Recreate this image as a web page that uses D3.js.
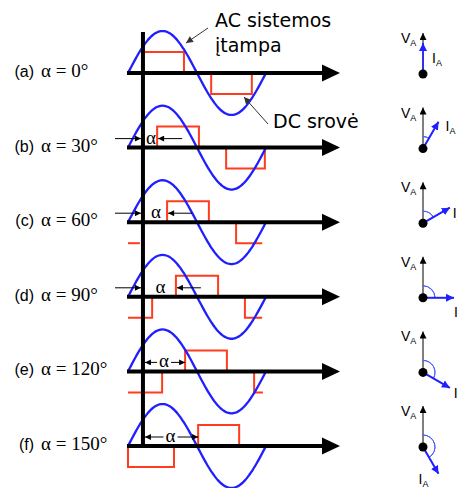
<!DOCTYPE html>
<html>
<head>
<meta charset="utf-8">
<script src="https://cdn.jsdelivr.net/npm/d3@7/dist/d3.min.js"></script>
<style>
  body { margin: 0; background: #fff; }
  svg { display: block; }
</style>
</head>
<body>
<div id="chart"></div>
<script>
// panel data (angles in degrees along one period of the AC voltage)
const panels = ["(a)", "(b)", "(c)", "(d)", "(e)", "(f)"];
const alphas = [0, 30, 60, 90, 120, 150];
const axisDeg = 39; // vertical axis position
const posPulses = [[39, 146], [76, 185], [102, 211], [125, 235], [149, 258], [183, 290]];
// negative current blocks; cut = side(s) clipped by the window
const negPulses = [
  [{from: 217, to: 323, cut: null}],
  [{from: 256, to: 357, cut: null}],
  [{from: 0, to: 31, cut: "both"}, {from: 282, to: 350, cut: "right"}],
  [{from: 0, to: 63, cut: "left"}, {from: 305, to: 350, cut: "right"}],
  [{from: 0, to: 89, cut: "left"}, {from: 329, to: 352, cut: "right"}],
  [{from: 0, to: 120, cut: null}]
];
const currentLevel = 0.5; // DC current level relative to voltage amplitude

const width = 457, height = 488;
const blue = "#1f1fff", red = "#ff3c1e";
const sans = "'Liberation Sans', Arial, sans-serif";
const serif = "'Liberation Serif', 'Times New Roman', serif";

const svg = d3.select("#chart").append("svg")
    .attr("width", width)
    .attr("height", height);

const defs = svg.append("defs");
function marker(id, color, w, h) {
  defs.append("marker")
      .attr("id", id)
      .attr("viewBox", "0 0 10 10")
      .attr("refX", 10).attr("refY", 5)
      .attr("markerUnits", "userSpaceOnUse")
      .attr("markerWidth", w).attr("markerHeight", h)
      .attr("orient", "auto-start-reverse")
    .append("path")
      .attr("d", "M0,0L10,5L0,10z")
      .attr("fill", color);
}
marker("thin", "#000", 7, 6);
marker("lead", "#333", 8, 7);
marker("vert", "#000", 8, 7);
marker("cur", blue, 8, 8);

const x = d3.scaleLinear().domain([0, 360]).range([128, 266]);
const amp = d3.scaleLinear().domain([-1, 1]).range([42, -42]);
const py = d3.scalePoint().domain(panels).range([73, 446]);

const sineLine = d3.line()
    .x(d => x(d))
    .y(d => amp(Math.sin(d * Math.PI / 180)))
    .curve(d3.curveBasis);

const stepLine = d3.line().x(d => x(d[0])).y(d => amp(d[1]));

panels.forEach((p, i) => {
  const g = svg.append("g").attr("transform", `translate(0,${py(p)})`);

  // red DC current blocks
  const pulses = [{from: posPulses[i][0], to: posPulses[i][1], cut: null, s: 1}]
    .concat(negPulses[i].map(d => Object.assign({s: -1}, d)));
  pulses.forEach(d => {
    let pts = [[d.from, 0], [d.from, d.s * currentLevel], [d.to, d.s * currentLevel], [d.to, 0]];
    if (d.cut === "left") pts = pts.slice(1);
    if (d.cut === "right") pts = pts.slice(0, 3);
    if (d.cut === "both") pts = pts.slice(1, 3);
    g.append("path")
        .attr("d", stepLine(pts))
        .attr("fill", "none")
        .attr("stroke", red)
        .attr("stroke-width", 2);
  });

  // AC voltage
  g.append("path")
      .attr("d", sineLine(d3.range(0, 361, 5)))
      .attr("fill", "none")
      .attr("stroke", blue)
      .attr("stroke-width", 2.3);

  // horizontal time axis with arrow
  g.append("line")
      .attr("x1", 127).attr("x2", 325)
      .attr("y1", 0).attr("y2", 0)
      .attr("stroke", "#000").attr("stroke-width", 4);
  g.append("path")
      .attr("d", "M322,-8.5L340,0L322,8.5z")
      .attr("fill", "#000");

  // panel label
  g.append("text")
      .attr("x", 34).attr("y", 4)
      .attr("text-anchor", "end")
      .attr("font-family", sans)
      .attr("font-size", 16)
      .text(p);
  g.append("text")
      .attr("x", 41).attr("y", 4)
      .attr("font-family", serif)
      .attr("font-size", 19)
      .text(`α = ${alphas[i]}°`);

  // firing angle annotation
  if (alphas[i] > 0) {
    const xa = x(axisDeg), xp = x(posPulses[i][0]);
    const ay = -9;
    const arrow = (x1, x2) => g.append("line")
        .attr("x1", x1).attr("x2", x2).attr("y1", ay).attr("y2", ay)
        .attr("stroke", "#000").attr("stroke-width", 1)
        .attr("marker-end", "url(#thin)");
    const inside = xp - xa >= 40;
    const tx = (xa + xp) / 2 + (inside ? 0 : 1);
    g.append("text")
        .attr("x", tx).attr("y", ay + 5)
        .attr("text-anchor", "middle")
        .attr("font-family", serif)
        .attr("font-size", 19)
        .text("α");
    if (inside) {
      arrow(tx - 7, xa + 2);
      arrow(tx + 7, xp);
    } else {
      arrow(115, xa - 2);
      arrow(xp + 25, xp + 1);
    }
  }
});

// main vertical axis
svg.append("line")
    .attr("x1", x(axisDeg)).attr("x2", x(axisDeg))
    .attr("y1", 32).attr("y2", py("(f)") + 1)
    .attr("stroke", "#000").attr("stroke-width", 4);

// phasor diagrams
const pcx = 423, vLen = 41, iLen = 31;
const iLabelOffset = [[9, 20], [7, 9], [3, 10], [0, 19], [4, 10], [-20, 10]];
panels.forEach((p, i) => {
  const cy = py(p) + 1;
  const g = svg.append("g").attr("transform", `translate(${pcx},${cy})`);
  const a = alphas[i] * Math.PI / 180;
  const tip = [iLen * Math.sin(a), -iLen * Math.cos(a)];

  g.append("line")
      .attr("x1", 0).attr("y1", 0).attr("x2", 0).attr("y2", -vLen)
      .attr("stroke", "#555").attr("stroke-width", 1.5)
      .attr("marker-end", "url(#vert)");

  if (alphas[i] > 0) {
    g.append("path")
        .attr("d", d3.arc()({innerRadius: 12, outerRadius: 12, startAngle: 0, endAngle: a}))
        .attr("fill", "none")
        .attr("stroke", "#4a5cff")
        .attr("stroke-width", 1);
  }

  g.append("line")
      .attr("x1", 0).attr("y1", 0).attr("x2", tip[0]).attr("y2", tip[1])
      .attr("stroke", blue).attr("stroke-width", alphas[i] === 0 ? 1.6 : 2)
      .attr("marker-end", "url(#cur)");

  g.append("circle").attr("r", 4.5).attr("fill", "#000");

  const v = g.append("text")
      .attr("x", -22).attr("y", -31)
      .attr("font-family", sans)
      .attr("font-size", 14);
  v.append("tspan").text("V");
  v.append("tspan").attr("dy", 3).attr("font-size", 9).text("A");

  const il = g.append("text")
      .attr("x", tip[0] + iLabelOffset[i][0]).attr("y", tip[1] + iLabelOffset[i][1])
      .attr("font-family", sans)
      .attr("font-size", 14);
  il.append("tspan").text("I");
  il.append("tspan").attr("dy", 3).attr("font-size", 9).text("A");
});

// callouts
const callFont = "'DejaVu Sans', Verdana, sans-serif";
svg.append("text").attr("x", 215).attr("y", 27)
    .attr("font-family", callFont).attr("font-size", 19).text("AC sistemos");
svg.append("text").attr("x", 215).attr("y", 52)
    .attr("font-family", callFont).attr("font-size", 19).text("įtampa");
svg.append("text").attr("x", 273).attr("y", 128)
    .attr("font-family", callFont).attr("font-size", 19).text("DC srovė");

svg.append("line")
    .attr("x1", 208).attr("y1", 28).attr("x2", 186).attr("y2", 43)
    .attr("stroke", "#333").attr("stroke-width", 1)
    .attr("marker-end", "url(#lead)");
svg.append("line")
    .attr("x1", 268).attr("y1", 124).attr("x2", 244).attr("y2", 97)
    .attr("stroke", "#333").attr("stroke-width", 1)
    .attr("marker-end", "url(#lead)");
</script>
</body>
</html>
